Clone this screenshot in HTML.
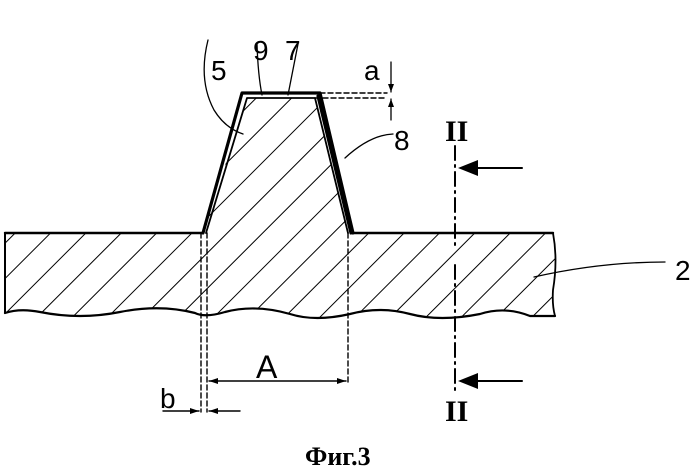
<!DOCTYPE html>
<html><head><meta charset="utf-8"><style>
html,body{margin:0;padding:0;background:#fff;width:700px;height:471px;overflow:hidden}
svg{display:block}
text{font-family:"Liberation Sans",sans-serif;fill:#000}
</style></head><body>
<svg width="700" height="471" viewBox="0 0 700 471" xmlns="http://www.w3.org/2000/svg">
<defs>
<pattern id="h" patternUnits="userSpaceOnUse" width="25" height="25" patternTransform="rotate(45)">
<line x1="0" y1="0" x2="0" y2="25" stroke="#000" stroke-width="2"/>
</pattern>
<clipPath id="body">
<path d="M5 233 L203 233 L247 98 L315 98 L348 233 L553 233 Q558 260 553 290 Q552 305 555 316 L530 316 Q505 306 480 314 Q440 322 410 314 Q380 306 350 314 Q315 322 290 314 Q255 304 225 312 Q205 318 195 313 Q160 304 120 312 Q80 320 40 312 Q20 308 5 313 Z"/>
</clipPath>
</defs>
<rect x="0" y="0" width="700" height="471" fill="url(#h)" clip-path="url(#body)"/>
<g fill="none" stroke="#000" stroke-linecap="round" stroke-linejoin="round">
<path d="M5 233 L203 233" stroke-width="2.4"/>
<path d="M353 233 L553 233" stroke-width="2.4"/>
<path d="M5 233 L5 313" stroke-width="2"/>
<path d="M553 233 Q558 260 553 290 Q552 305 555 316" stroke-width="1.8"/>
<path d="M5 313 Q20 308 40 312 Q80 320 120 312 Q160 304 195 313 Q205 318 225 312 Q255 304 290 314 Q315 322 350 314 Q380 306 410 314 Q440 322 480 314 Q505 306 530 316 L555 316" stroke-width="2.2"/>
<path d="M203 233 L242 93 L320 93 L353 233" stroke-width="3.2"/>
<path d="M206 233 L247 98 L315 98 L348 233" stroke-width="1.8"/>
<path d="M318 96 L351 233" stroke-width="3.2"/>
<path d="M201 233 L201 412 M207 233 L207 412 M348 233 L348 385" stroke-width="1.4" stroke-dasharray="5,3"/>
<path d="M320 93 L387 93 M315 98 L387 98" stroke-width="1.4" stroke-dasharray="5,3"/>
<path d="M391 62 L391 92 M391 99 L391 120" stroke-width="1.3"/>
<path d="M209 381 L346 381" stroke-width="1.4"/>
<path d="M163 411 L199 411 M209 411 L240 411" stroke-width="1.4"/>
<path d="M455 146 L455 245 M455 265 L455 390" stroke-width="2" stroke-dasharray="14,5,2,5"/>
<path d="M470 168 L522 168 M470 381 L522 381" stroke-width="2"/>
<path d="M208 40 Q198 80 214 110 Q225 128 243 134" stroke-width="1.3"/>
<path d="M257 44 Q258 75 262 95" stroke-width="1.3"/>
<path d="M298 44 Q292 75 288 95" stroke-width="1.3"/>
<path d="M393 134 Q370 135 345 158" stroke-width="1.3"/>
<path d="M534 277 Q600 262 665 262" stroke-width="1.3"/>
</g>
<g fill="#000">
<path d="M391 92 L388 84 L394 84 Z M391 99 L388 107 L394 107 Z"/>
<path d="M209 381 L218 378 L218 384 Z M346 381 L337 378 L337 384 Z"/>
<path d="M199 411 L190 408 L190 414 Z M209 411 L218 408 L218 414 Z"/>
<path d="M458 168 L478 160 L478 176 Z M458 381 L478 373 L478 389 Z"/>
</g>
<g font-size="28">
<text x="211" y="80">5</text>
<text x="253" y="60">9</text>
<text x="285" y="60">7</text>
<text x="364" y="80">a</text>
<text x="394" y="150">8</text>
<text x="675" y="280">2</text>
<text x="256" y="378" font-size="32">A</text>
<text x="160" y="408">b</text>
</g>
<g font-weight="bold">
<text x="445" y="141" font-size="30" style="font-family:'Liberation Serif',serif">II</text>
<text x="445" y="421" font-size="30" style="font-family:'Liberation Serif',serif">II</text>
<text x="305" y="465" font-size="26" style="font-family:'Liberation Serif',serif">Фиг.3</text>
</g>
</svg>
</body></html>
